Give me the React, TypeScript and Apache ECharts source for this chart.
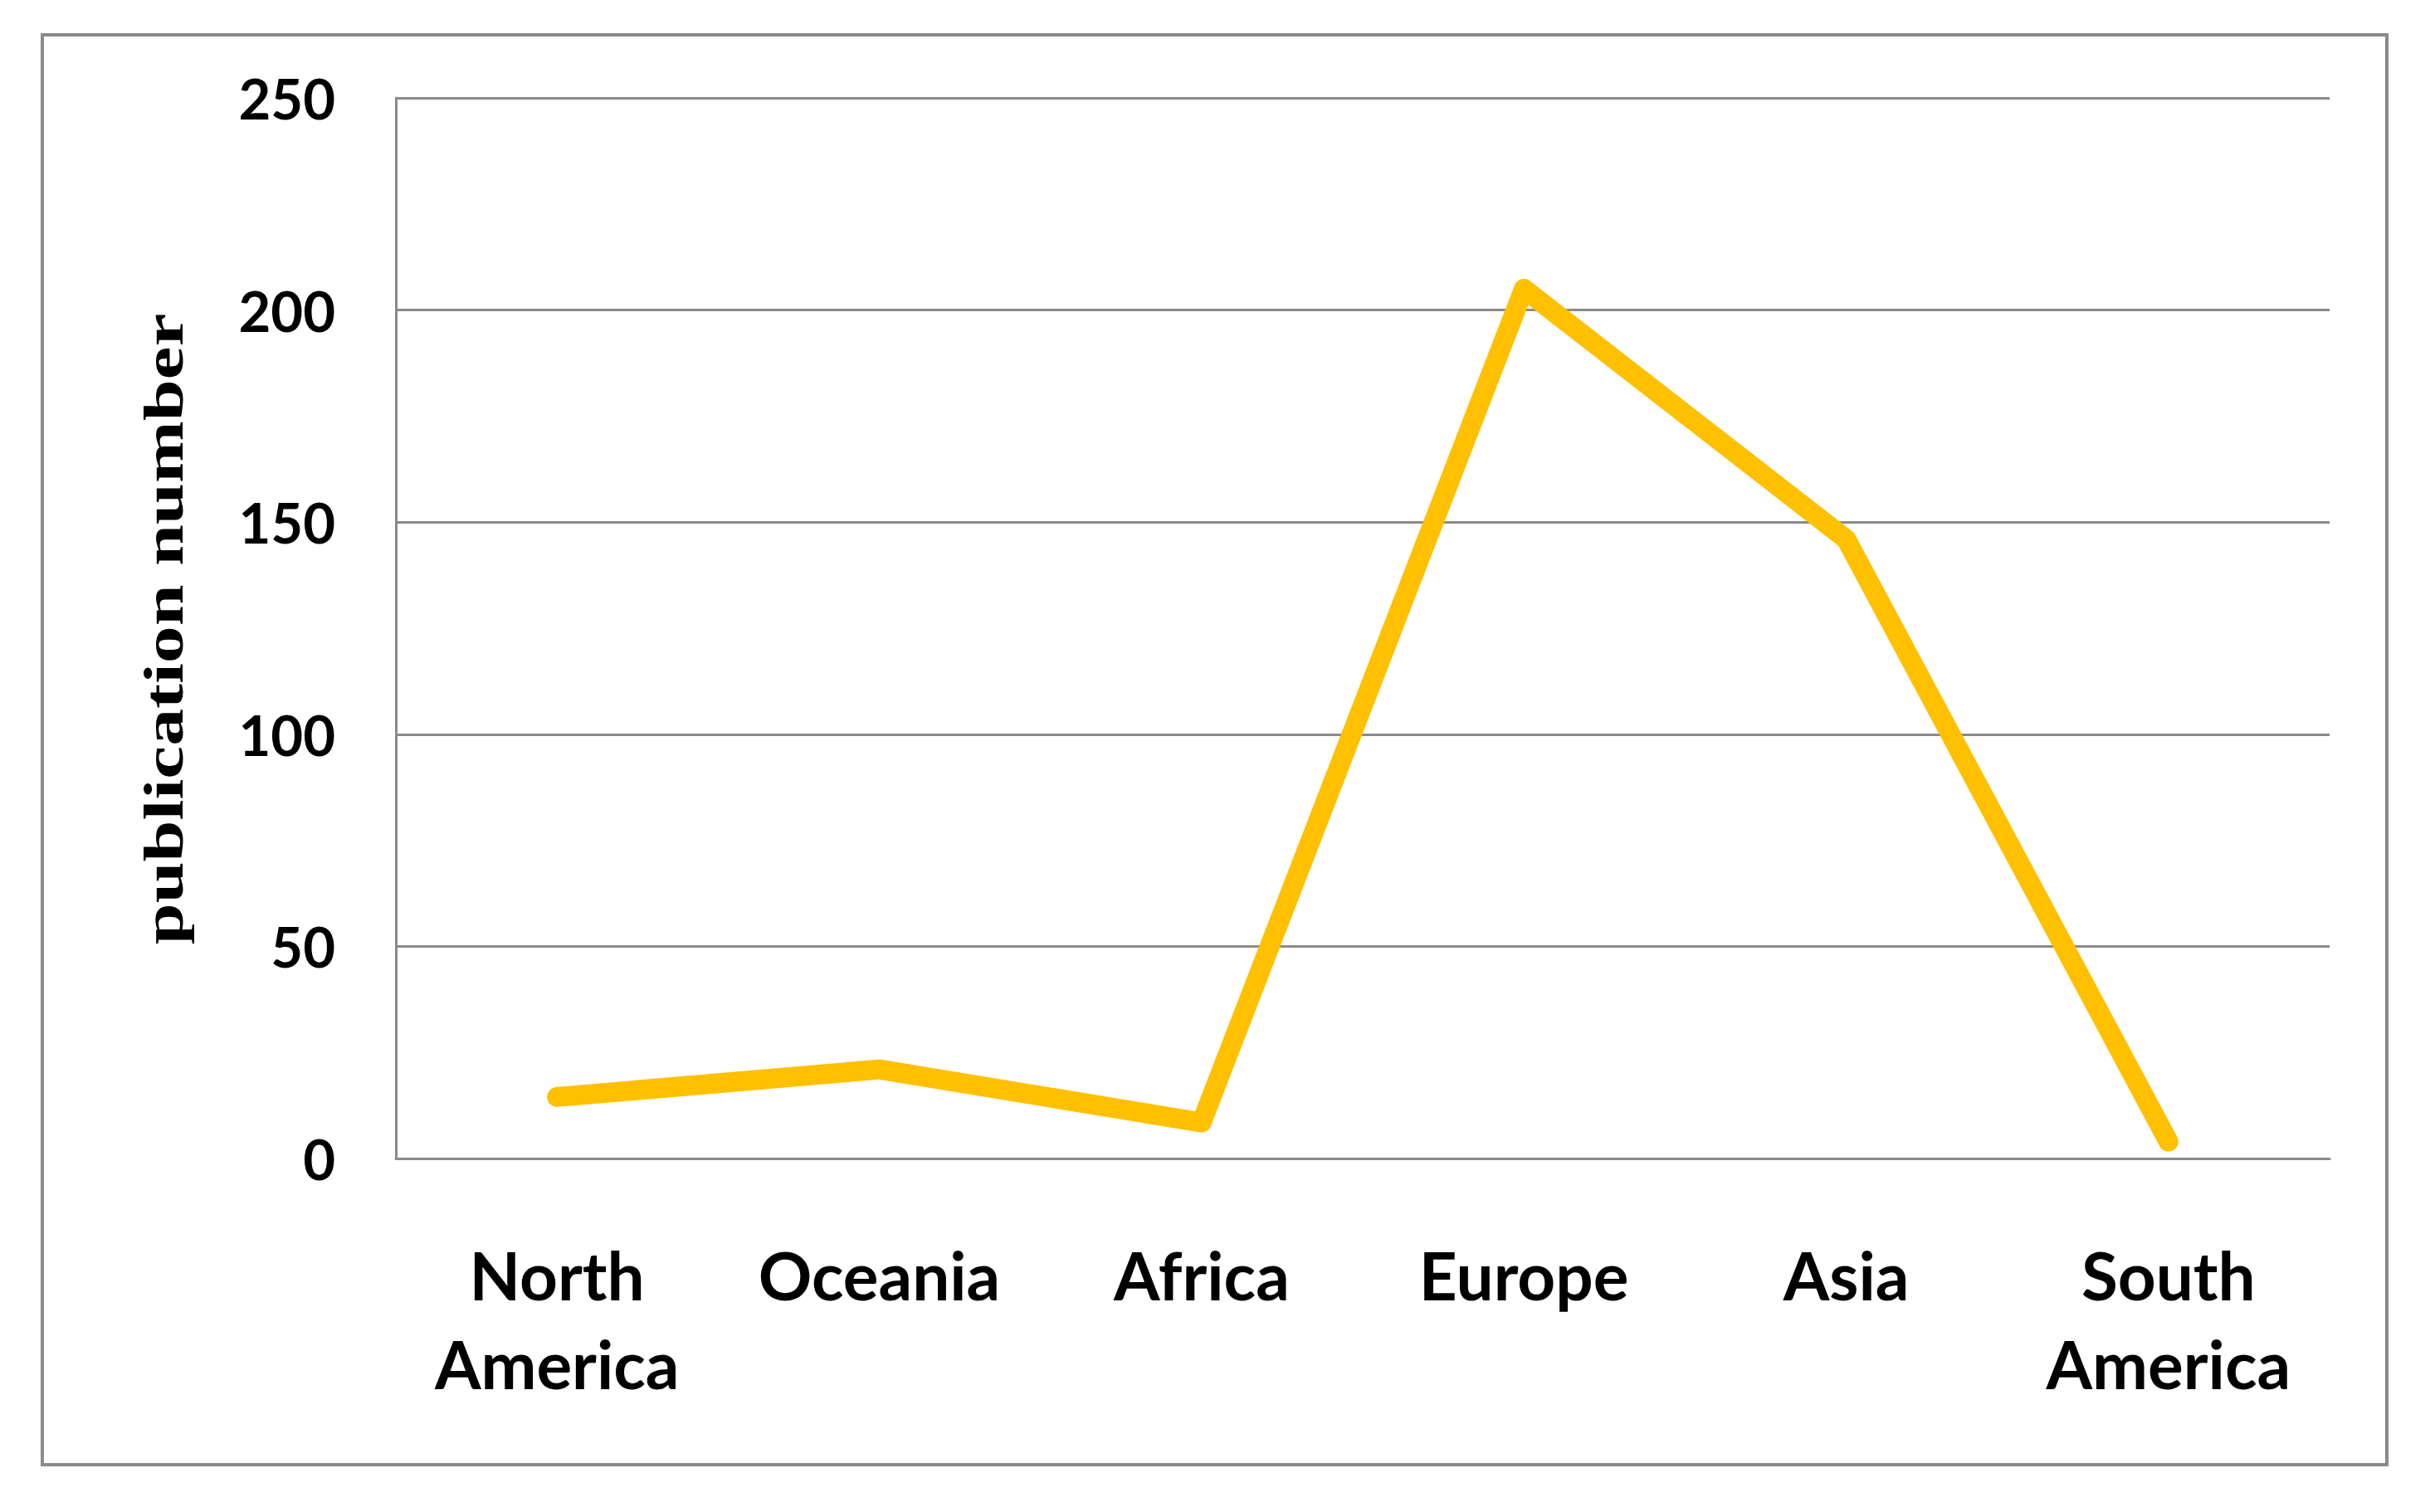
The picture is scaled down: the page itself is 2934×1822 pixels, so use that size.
import React, { useEffect, useRef } from "react";
import * as echarts from "echarts";

const categories = ["North\nAmerica", "Oceania", "Africa", "Europe", "Asia", "South\nAmerica"];
const publications = [14.5, 21, 8.5, 205, 146, 4];
const yTicks = [0, 50, 100, 150, 200, 250];
const yTitle = "publication number";

export default function App() {
  const ref = useRef<HTMLDivElement>(null);
  useEffect(() => {
    document.body.style.margin = "0";
    const chart = echarts.init(ref.current!, null, { renderer: "svg" });
    chart.setOption({
      animation: false,
      backgroundColor: "#ffffff",
      grid: { left: 477, right: 2934 - 2807, top: 118, bottom: 1822 - 1396, containLabel: false },
      xAxis: {
        type: "category",
        data: categories,
        boundaryGap: true,
        axisLine: { show: true, lineStyle: { color: "#8a8a8a", width: 3 } },
        axisTick: { show: false },
        axisLabel: {
          margin: 86,
          color: "#000",
          fontFamily: "Lato",
          fontWeight: "bold",
          fontSize: 80,
          lineHeight: 107,
          interval: 0,
        },
        splitLine: { show: false },
      },
      yAxis: {
        type: "value",
        min: yTicks[0],
        max: yTicks[yTicks.length - 1],
        interval: 50,
        axisLine: { show: true, lineStyle: { color: "#8a8a8a", width: 3 } },
        axisTick: { show: false },
        axisLabel: {
          margin: 73,
          color: "#000",
          fontFamily: "Lato",
          fontWeight: "bold",
          fontSize: 67,
        },
        splitLine: { show: true, lineStyle: { color: "#8a8a8a", width: 3 } },
      },
      series: [
        {
          type: "line",
          data: publications,
          showSymbol: false,
          symbol: "none",
          lineStyle: { color: "#FFC000", width: 24, cap: "round", join: "round" },
          itemStyle: { color: "#FFC000" },
          z: 5,
        },
      ],
      graphic: [
        {
          type: "rect",
          shape: { x: 51, y: 42, width: 2825, height: 1723 },
          style: { fill: "none", stroke: "#8a8a8a", lineWidth: 4 },
          silent: true,
        },
        {
          type: "text",
          x: 197,
          y: 758,
          rotation: Math.PI / 2,
          scaleX: 1.32,
          style: {
            text: yTitle,
            font: 'bold 68px "Liberation Serif"',
            fill: "#000",
            align: "center",
            verticalAlign: "middle",
          },
        },
      ],
    });
    return () => chart.dispose();
  }, []);
  return <div ref={ref} style={{ position: "absolute", left: 0, top: 0, width: 2934, height: 1822 }} />;
}
